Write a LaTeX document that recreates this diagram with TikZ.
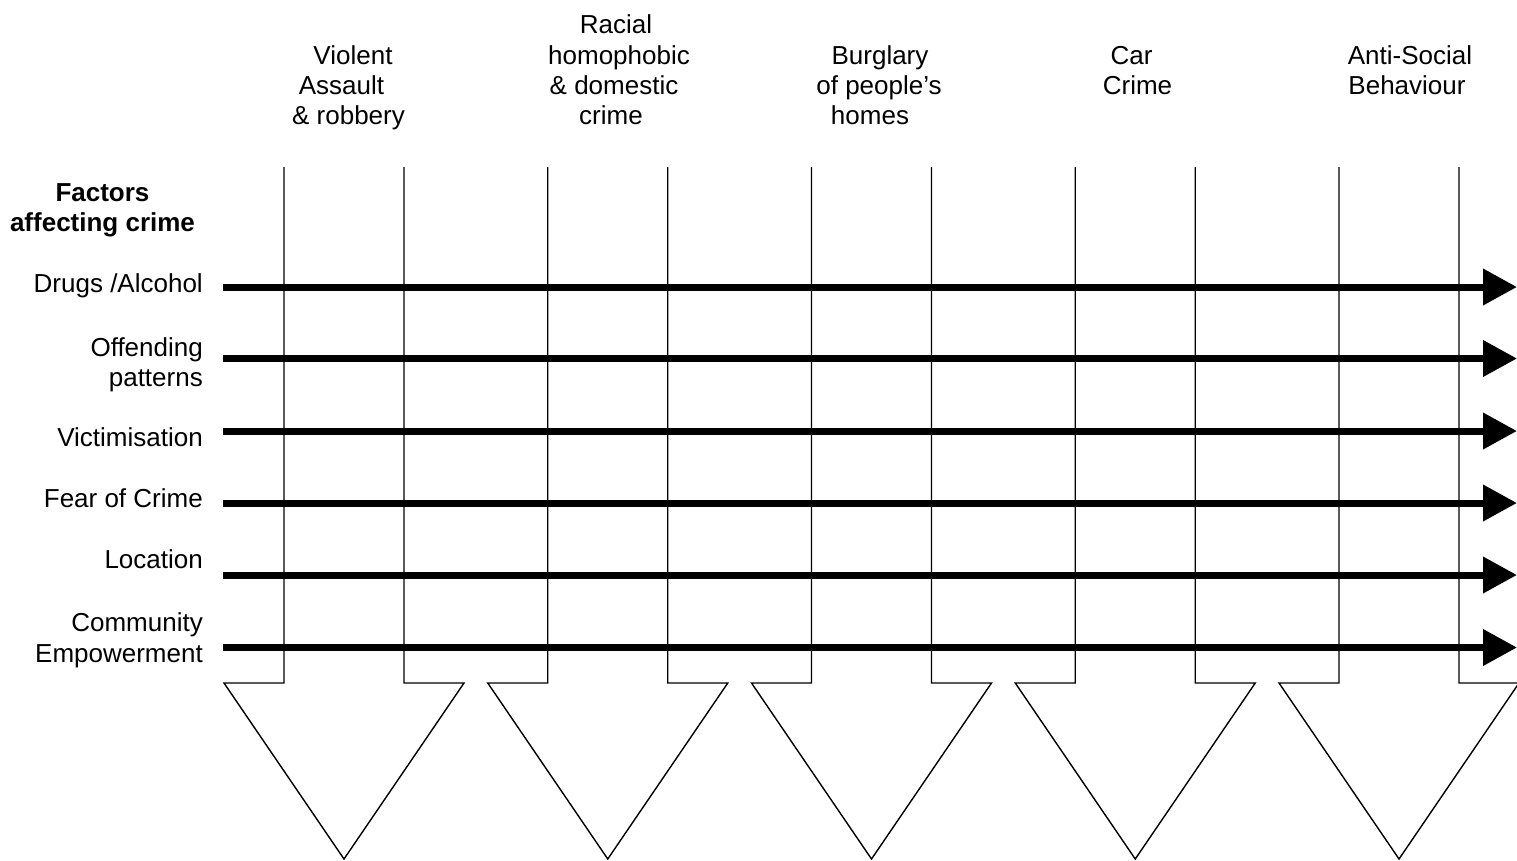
\documentclass[tikz,border=0pt]{standalone}
\usepackage{fontspec}
\setmainfont{Liberation Sans}
\usetikzlibrary{arrows.meta}
\begin{document}
\begin{tikzpicture}[x=1pt,y=-1pt,
  lbl/.style={anchor=base,inner sep=0pt,font=\fontsize{26}{30}\selectfont},
  rlbl/.style={anchor=base east,inner sep=0pt,font=\fontsize{26}{30}\selectfont},
  blockarrow/.style={draw=black,line width=1.4pt,line join=miter},
  factor/.style={line width=7pt,-{Triangle[length=34pt,width=35pt]}}]
\useasboundingbox (0,0) rectangle (1517,860);

% block arrows (crime categories)
\foreach \i in {0,...,4}{
  \pgfmathsetmacro{\cx}{344+263.75*\i}
  \draw[blockarrow] (\cx-60,167) -- (\cx-60,683) -- (\cx-120,683) -- (\cx,859)
    -- (\cx+120,683) -- (\cx+60,683) -- (\cx+60,167);
}

% top labels
\node[lbl] (v1) at (353,64) {Violent};
\node[lbl] (v2) at (341.5,94.5) {Assault};
\node[lbl] (v3) at (348.5,124.5) {\& robbery};

\node[lbl] (r1) at (616,33.5) {Racial};
\node[lbl] (r2) at (619,64) {homophobic};
\node[lbl] (r3) at (614,94.5) {\& domestic};
\node[lbl] (r4) at (611,124.5) {crime};

\node[lbl] (b1) at (880,64) {Burglary};
\node[lbl] (b2) at (879,94.5) {of people’s};
\node[lbl] (b3) at (870,124.5) {homes};

\node[lbl] (c1) at (1131.5,64) {Car};
\node[lbl] (c2) at (1137.5,94.5) {Crime};

\node[lbl] (a1) at (1410,64) {Anti-Social};
\node[lbl] (a2) at (1407,94.5) {Behaviour};

% left heading
\node[lbl,font=\fontsize{26}{30}\selectfont\bfseries] (f1) at (102.5,201.7) {Factors};
\node[lbl,font=\fontsize{26}{30}\selectfont\bfseries] (f2) at (102.5,231.7) {affecting crime};

% factor labels
\node[rlbl] (l1) at (203,292.5) {Drugs /Alcohol};
\node[rlbl] (l2a) at (203,356.5) {Offending};
\node[rlbl] (l2b) at (203,386.5) {patterns};
\node[rlbl] (l3) at (203,446.5) {Victimisation};
\node[rlbl] (l4) at (203,507.5) {Fear of Crime};
\node[rlbl] (l5) at (203,568.5) {Location};
\node[rlbl] (l6a) at (203,631.5) {Community};
\node[rlbl] (l6b) at (203,662) {Empowerment};

% factor arrows
\foreach \k/\y in {1/287,2/358.5,3/431,4/503,5/575,6/647.5}{
  \coordinate (s\k) at (223,\y);
  \coordinate (e\k) at (1517,\y);
  \draw[factor] (s\k) -- (e\k);
}
\end{tikzpicture}
\end{document}
